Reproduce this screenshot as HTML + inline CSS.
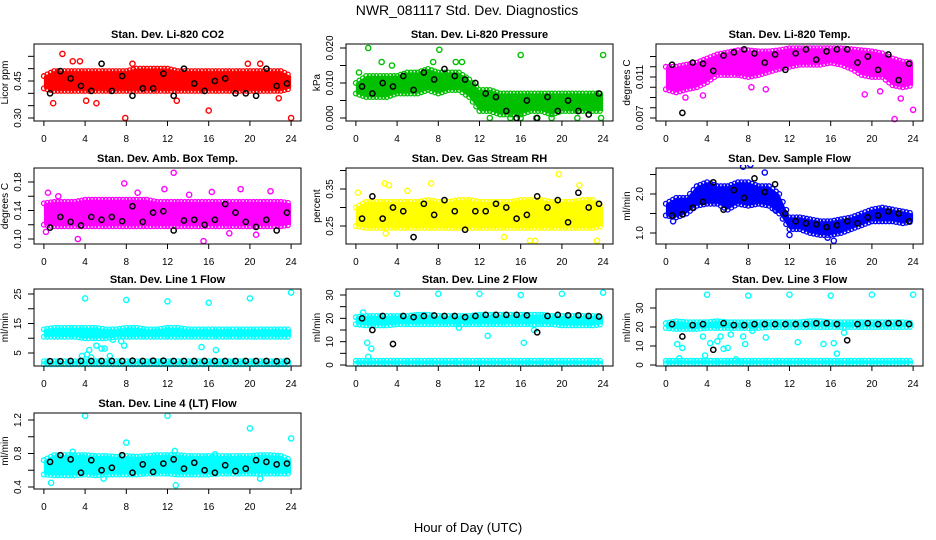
<!DOCTYPE html>
<html><head><meta charset="utf-8">
<style>
html,body{margin:0;padding:0;background:#fff;}
svg{display:block;font-family:"Liberation Sans",sans-serif;}
</style></head>
<body>
<svg id="c" width="936" height="540" viewBox="0 0 936 540">
<text x="467" y="15" text-anchor="middle" font-size="14">NWR_081117  Std. Dev. Diagnostics</text>
<text x="468" y="532" text-anchor="middle" font-size="13">Hour of Day (UTC)</text>
</svg>
<script>
// hourly band (hours 0..24) of dense colored cloud, outliers, black points
const hours = [0,1,2,3,4,5,6,7,8,9,10,11,12,13,14,15,16,17,18,19,20,21,22,23,24];
const co2Lo = [0.42,0.41,0.41,0.41,0.41,0.41,0.41,0.41,0.41,0.41,0.41,0.41,0.41,0.41,0.41,0.41,0.41,0.41,0.41,0.41,0.41,0.41,0.41,0.41,0.42];
const co2Hi = [0.47,0.49,0.49,0.49,0.49,0.49,0.49,0.49,0.49,0.50,0.50,0.50,0.50,0.49,0.49,0.49,0.49,0.49,0.49,0.49,0.49,0.49,0.49,0.49,0.47];
const co2OutX = [1.8,2.8,3.5,7.9,16,24,19.8,21,8.6,0.9,4.1,5.1,12.9,22.8];
const co2OutY = [0.56,0.53,0.53,0.30,0.33,0.30,0.52,0.52,0.52,0.36,0.37,0.36,0.37,0.38];
const co2Blk = [0.40,0.49,0.46,0.43,0.41,0.52,0.41,0.47,0.39,0.42,0.42,0.48,0.39,0.50,0.44,0.41,0.45,0.46,0.40,0.40,0.39,0.50,0.43,0.44];

const prLo = [0.007,0.006,0.006,0.006,0.007,0.007,0.007,0.008,0.007,0.008,0.008,0.006,0.002,0.002,0.001,0.001,0.001,0.002,0.002,0.001,0.002,0.002,0.002,0.002,0.002];
const prHi = [0.010,0.012,0.012,0.012,0.012,0.013,0.013,0.014,0.013,0.013,0.013,0.011,0.008,0.008,0.007,0.007,0.007,0.007,0.007,0.007,0.007,0.007,0.007,0.007,0.007];
const prOutX = [1.2,8.1,16,24,2.5,7.5,3.5,10.3,9.7,13,15,16,17.5,19,21.5,23.8,0.3];
const prOutY = [0.020,0.0195,0.018,0.018,0.016,0.016,0.015,0.016,0.016,0,0,0,0,0,0,0,0.013];
const prBlk = [0.009,0.007,0.010,0.009,0.012,0.008,0.013,0.011,0.014,0.012,0.011,0.010,0.007,0.006,0.002,0.000,0.005,0.000,0.006,0.002,0.005,0.002,0.001,0.007];

const tpLo = [0.0098,0.0095,0.0098,0.0100,0.0105,0.0112,0.0112,0.0112,0.0110,0.0112,0.0115,0.0118,0.0120,0.0122,0.0122,0.0122,0.0124,0.0122,0.0118,0.0112,0.0110,0.0110,0.0102,0.0100,0.0102];
const tpHi = [0.0120,0.0120,0.0122,0.0124,0.0128,0.0132,0.0134,0.0136,0.0136,0.0135,0.0135,0.0136,0.0138,0.0138,0.0138,0.0138,0.0138,0.0138,0.0137,0.0136,0.0135,0.0133,0.0128,0.0125,0.0124];
const tpOutX = [22.2,24,19.3,1.9,3.6,8.3,9.7,20.8,22.8,5.6,7.0];
const tpOutY = [0.0069,0.0078,0.0093,0.0090,0.0092,0.0100,0.0098,0.0096,0.0089,0.0115,0.0114];
const tpBlk = [0.0122,0.0075,0.0124,0.0123,0.0116,0.0131,0.0134,0.0137,0.0133,0.0124,0.0132,0.0117,0.0133,0.0137,0.0127,0.0135,0.0137,0.0137,0.0124,0.0130,0.0117,0.0132,0.0107,0.0123];

const abLo = [0.120,0.118,0.118,0.118,0.118,0.118,0.118,0.118,0.118,0.118,0.118,0.118,0.118,0.118,0.118,0.118,0.118,0.118,0.118,0.118,0.118,0.118,0.118,0.118,0.120];
const abHi = [0.150,0.152,0.152,0.152,0.155,0.155,0.155,0.155,0.155,0.155,0.155,0.152,0.152,0.152,0.152,0.152,0.152,0.152,0.152,0.152,0.152,0.152,0.152,0.152,0.150];
const abOutX = [12.6,7.8,15.5,3.3,0.4,11.7,19.1,9.1,14.1,16.3,22.0,18.0,20.6,0.2,1.4];
const abOutY = [0.193,0.178,0.097,0.100,0.165,0.170,0.170,0.165,0.162,0.166,0.167,0.108,0.106,0.110,0.160];
const abBlk = [0.116,0.131,0.124,0.119,0.131,0.127,0.131,0.125,0.146,0.124,0.137,0.139,0.112,0.126,0.127,0.120,0.127,0.149,0.137,0.124,0.117,0.127,0.112,0.137];

const rhLo = [0.250,0.245,0.245,0.245,0.245,0.245,0.245,0.245,0.245,0.245,0.245,0.245,0.245,0.245,0.245,0.245,0.245,0.245,0.245,0.245,0.245,0.245,0.245,0.245,0.250];
const rhHi = [0.300,0.315,0.315,0.315,0.315,0.315,0.315,0.320,0.315,0.315,0.320,0.320,0.315,0.315,0.315,0.315,0.320,0.320,0.320,0.315,0.315,0.315,0.320,0.320,0.300];
const rhOutX = [19.7,2.8,16.9,23.4,7.3,17.4,0.2,21.7,14.4,2.9,5.0,3.2];
const rhOutY = [0.39,0.365,0.21,0.21,0.365,0.21,0.34,0.36,0.22,0.23,0.345,0.36];
const rhBlk = [0.27,0.33,0.27,0.30,0.29,0.22,0.31,0.28,0.32,0.29,0.24,0.29,0.29,0.31,0.30,0.27,0.28,0.33,0.30,0.32,0.26,0.34,0.30,0.31];

const sfLo = [1.45,1.40,1.50,1.70,1.75,1.75,1.60,1.75,1.70,1.75,1.70,1.50,1.10,1.10,1.00,0.95,0.95,1.00,1.10,1.20,1.30,1.30,1.30,1.25,1.30];
const sfHi = [1.75,1.90,1.90,2.20,2.30,2.20,2.20,2.30,2.30,2.20,2.20,2.00,1.40,1.40,1.35,1.30,1.30,1.35,1.40,1.50,1.60,1.65,1.60,1.55,1.50];
const sfOutX = [7.5,8.2,9.6,16.3,12.0,0.7,10.6,15.7];
const sfOutY = [2.70,2.75,2.55,0.80,0.95,1.30,1.60,0.88];
const sfBlk = [1.45,1.48,1.65,1.80,2.30,1.60,2.10,1.90,2.40,2.05,2.25,1.50,1.30,1.25,1.22,1.15,1.20,1.30,1.25,1.40,1.45,1.55,1.50,1.30];

const l1Lo = [10.5,10.5,10.5,10.5,10.0,10.0,10.0,10.5,10.5,10.5,10.5,10.5,10.5,10.5,10.5,10.5,10.5,10.5,10.5,10.5,10.5,10.5,10.5,10.5,10.5];
const l1Hi = [13.0,13.5,13.5,13.5,13.5,13.5,13.0,13.0,13.5,13.5,13.0,13.0,13.5,13.5,13.0,13.0,13.0,13.0,13.0,13.0,13.0,13.0,13.0,13.0,13.0];
const l1OutX = [4,8,12,16,20,24,3.7,4.2,5.1,5.6,5.9,6.4,7.5,7.8,6.7,15.3,16.7,4.4,4.6];
const l1OutY = [23.5,23,22.5,22,23.5,25.5,4,4.5,7.5,6.5,6.5,4,9,7.5,9.5,7,6,6,3.5];
const l1Blk = [2.2,2.2,2.3,2.3,2.3,2.3,2.3,2.3,2.4,2.3,2.4,2.4,2.3,2.3,2.3,2.3,2.3,2.3,2.3,2.3,2.3,2.3,2.2,2.3];
const l1BotLo = [1.2,1.2,1.2,1.2,1.2,1.2,1.2,1.2,1.2,1.2,1.2,1.2,1.2,1.2,1.2,1.2,1.2,1.2,1.2,1.2,1.2,1.2,1.2,1.2,1.2];
const l1BotHi = [2.2,2.2,2.2,2.2,2.2,2.2,2.2,2.2,2.2,2.2,2.2,2.2,2.2,2.2,2.2,2.2,2.2,2.2,2.2,2.2,2.2,2.2,2.2,2.2,2.2];

const l2Lo = [17.5,17.0,17.0,17.0,17.5,17.5,17.5,17.5,17.5,17.5,17.5,17.5,17.5,17.5,17.5,17.5,17.5,17.5,17.5,17.5,17.0,17.0,17.0,17.0,17.5];
const l2Hi = [20.5,21.0,21.0,21.0,21.0,21.0,21.5,21.5,21.0,21.0,21.0,21.0,21.5,21.5,21.5,21.5,21.5,21.5,21.5,21.0,21.0,21.0,21.0,21.0,20.5];
const l2OutX = [4,8,12,16,20,24,1.1,1.5,1.2,12.8,16.3,10,0.7,17.3];
const l2OutY = [30.5,30.5,30.5,30,30.5,31,9.5,7,3.5,12.5,9.5,16,22.5,15];
const l2Blk = [20,15,21,9,21,20.5,21,21.2,21,21,20.5,21,21.5,21.5,21.5,21.5,21.3,14,21,21.5,21.3,21.3,21,20.8];
const l2BotLo = [0.5,0.5,0.5,0.5,0.5,0.5,0.5,0.5,0.5,0.5,0.5,0.5,0.5,0.5,0.5,0.5,0.5,0.5,0.5,0.5,0.5,0.5,0.5,0.5,0.5];
const l2BotHi = [1.8,1.8,1.8,1.8,1.8,1.8,1.8,1.8,1.8,1.8,1.8,1.8,1.8,1.8,1.8,1.8,1.8,1.8,1.8,1.8,1.8,1.8,1.8,1.8,1.8];

const l3Lo = [19.5,19.0,19.0,19.0,19.5,19.5,19.5,19.5,19.5,19.5,20.0,20.0,20.0,20.0,20.0,20.0,20.0,20.0,20.0,20.0,20.0,20.0,20.0,20.0,20.0];
const l3Hi = [22.0,23.0,22.5,22.5,22.5,23.0,22.5,22.5,22.5,22.5,22.5,22.5,22.5,22.5,23.0,23.0,22.5,22.5,22.5,22.5,22.5,22.5,22.5,22.5,22.0];
const l3OutX = [4,8,12,16,20,24,1.1,1.6,1.3,3.6,4.3,5.0,5.3,5.6,6.0,6.3,7.5,7.7,9.7,12.8,15.3,16.3,16.6,17.3,3.8,6.8,8.4];
const l3OutY = [37,36.5,37,36.5,37,37,11,9,3.5,15,11.5,12.5,15,8.5,9,16,15,11,14.5,12,11,11.5,6,17,5,3,18];
const l3Blk = [21.5,15,21,21.5,8,22,21,21,21.5,21.5,21.5,21.5,21.5,21.5,22,22,21.5,13,21.5,22,21.5,22,22,21.5];
const l3BotLo = [0.8,0.8,0.8,0.8,0.8,0.8,0.8,0.8,0.8,0.8,0.8,0.8,0.8,0.8,0.8,0.8,0.8,0.8,0.8,0.8,0.8,0.8,0.8,0.8,0.8];
const l3BotHi = [2.2,2.2,2.2,2.2,2.2,2.2,2.2,2.2,2.2,2.2,2.2,2.2,2.2,2.2,2.2,2.2,2.2,2.2,2.2,2.2,2.2,2.2,2.2,2.2,2.2];

const l4Lo = [0.55,0.54,0.54,0.54,0.55,0.54,0.55,0.55,0.55,0.55,0.56,0.56,0.56,0.55,0.55,0.55,0.55,0.56,0.56,0.56,0.56,0.56,0.56,0.56,0.56];
const l4Hi = [0.72,0.78,0.78,0.78,0.78,0.77,0.77,0.76,0.77,0.76,0.77,0.78,0.78,0.78,0.77,0.77,0.77,0.77,0.77,0.77,0.77,0.78,0.78,0.77,0.72];
const l4OutX = [4,12,20,24,8,12.8,0.7,2.8,16.6,12.7,5.8,21];
const l4OutY = [1.25,1.25,1.10,0.98,0.93,0.42,0.45,0.82,0.79,0.83,0.50,0.50];
const l4Blk = [0.70,0.78,0.73,0.57,0.72,0.60,0.63,0.78,0.57,0.67,0.58,0.68,0.73,0.62,0.69,0.60,0.57,0.66,0.59,0.62,0.72,0.70,0.67,0.68];

const panels = [
 {name:'co2',title:'Stan. Dev. Li-820 CO2',ylab:'Licor ppm',col:0,row:0,color:'#ff0000',lo:co2Lo,hi:co2Hi,ox:co2OutX,oy:co2OutY,blk:co2Blk,ref:[0.45,81,0.30,118],ticks:[0.30,0.35,0.40,0.45,0.50,0.55],labs:[0.30,0.45],fmt:2},
 {name:'pressure',title:'Stan. Dev. Li-820 Pressure',ylab:'kPa',col:1,row:0,color:'#00c000',lo:prLo,hi:prHi,ox:prOutX,oy:prOutY,blk:prBlk,ref:[0.020,48,0,118],ticks:[0,0.005,0.010,0.015,0.020],labs:[0,0.010,0.020],fmt:3},
 {name:'temp',title:'Stan. Dev. Li-820 Temp.',ylab:'degrees C',col:2,row:0,color:'#ff00ff',lo:tpLo,hi:tpHi,ox:tpOutX,oy:tpOutY,blk:tpBlk,ref:[0.011,77,0.007,118],ticks:[0.007,0.008,0.009,0.010,0.011,0.012,0.013],labs:[0.007,0.011],fmt:3},
 {name:'amb-box',title:'Stan. Dev. Amb. Box Temp.',ylab:'degrees C',col:0,row:1,color:'#ff00ff',lo:abLo,hi:abHi,ox:abOutX,oy:abOutY,blk:abBlk,ref:[0.18,182,0.10,239],ticks:[0.10,0.12,0.14,0.16,0.18],labs:[0.10,0.14,0.18],fmt:2},
 {name:'rh',title:'Stan. Dev. Gas Stream RH',ylab:'percent',col:1,row:1,color:'#ffff00',lo:rhLo,hi:rhHi,ox:rhOutX,oy:rhOutY,blk:rhBlk,ref:[0.35,189,0.25,226],ticks:[0.25,0.30,0.35,0.40],labs:[0.25,0.35],fmt:2},
 {name:'sample-flow',title:'Stan. Dev. Sample Flow',ylab:'ml/min',col:2,row:1,color:'#0000ff',lo:sfLo,hi:sfHi,ox:sfOutX,oy:sfOutY,blk:sfBlk,ref:[2.0,194,1.0,233],ticks:[1.0,1.5,2.0,2.5],labs:[1.0,2.0],fmt:1},
 {name:'line1',title:'Stan. Dev. Line 1 Flow',ylab:'ml/min',col:0,row:2,color:'#00ffff',lo:l1Lo,hi:l1Hi,lo2:l1BotLo,hi2:l1BotHi,ox:l1OutX,oy:l1OutY,blk:l1Blk,ref:[25,294,5,353],ticks:[5,10,15,20,25],labs:[5,15,25],fmt:0},
 {name:'line2',title:'Stan. Dev. Line 2 Flow',ylab:'ml/min',col:1,row:2,color:'#00ffff',lo:l2Lo,hi:l2Hi,lo2:l2BotLo,hi2:l2BotHi,ox:l2OutX,oy:l2OutY,blk:l2Blk,ref:[30,295,0,365],ticks:[0,5,10,15,20,25,30],labs:[0,10,20,30],fmt:0},
 {name:'line3',title:'Stan. Dev. Line 3 Flow',ylab:'ml/min',col:2,row:2,color:'#00ffff',lo:l3Lo,hi:l3Hi,lo2:l3BotLo,hi2:l3BotHi,ox:l3OutX,oy:l3OutY,blk:l3Blk,ref:[30,308,0,365],ticks:[0,10,20,30],labs:[0,10,20,30],fmt:0},
 {name:'line4',title:'Stan. Dev. Line 4 (LT) Flow',ylab:'ml/min',col:0,row:3,color:'#00ffff',lo:l4Lo,hi:l4Hi,ox:l4OutX,oy:l4OutY,blk:l4Blk,ref:[1.2,420,0.4,487],ticks:[0.4,0.6,0.8,1.0,1.2],labs:[0.4,0.8,1.2],fmt:1}
];
const xTicks = [0,4,8,12,16,20,24];

const NS='http://www.w3.org/2000/svg';
const svg=document.getElementById('c');
const colL=[34,346,656], boxW=267;
const rowT=[44,168,289,413], rowB=[121,244,366,489];
function mk(tag,attrs,parent){const e=document.createElementNS(NS,tag);for(const k in attrs)e.setAttribute(k,attrs[k]);parent.appendChild(e);return e;}

panels.forEach(p=>{
  const L=colL[p.col],R=L+boxW,T=rowT[p.row],B=rowB[p.row];
  const g=mk('g',{},svg);
  
  
  const x0=L+0.04/1.08*boxW, xs=(boxW/1.08)/24;
  const X=h=>x0+h*xs;
  const [v1,py1,v2,py2]=p.ref;
  const Y=v=>py1+(v-v1)*(py2-py1)/(v2-v1);
  const clip='clip-'+p.name;
  const cp=mk('clipPath',{id:clip},g); mk('rect',{x:L,y:T-3,width:boxW,height:B-T+6},cp);
  const pg=mk('g',{'clip-path':'url(#'+clip+')'},g);
  function band(lo,hi,nm){
    let pts=[];
    hours.forEach((h,i)=>pts.push(X(h)+','+Y(hi[i])));
    for(let i=hours.length-1;i>=0;i--)pts.push(X(hours[i])+','+Y(lo[i]));
    const poly=mk('polygon',{points:pts.join(' '),fill:p.color},pg);
    
    
    for(let i=0;i<hours.length-1;i++){
      for(let f=0;f<1;f+=0.34){
        const h=hours[i]+f;
        const l=lo[i]+(lo[i+1]-lo[i])*f, u=hi[i]+(hi[i+1]-hi[i])*f;
        [l,u].forEach(v=>{
          const c=mk('circle',{cx:X(h),cy:Y(v),r:2.4,fill:'none',stroke:p.color,'stroke-width':1.3},pg);
          
          
        });
      }
    }
  }
  band(p.lo,p.hi,'data-cloud');
  if(p.lo2) band(p.lo2,p.hi2,'data-cloud-low');
  p.ox.forEach((h,i)=>{
    const c=mk('circle',{cx:X(h),cy:Y(p.oy[i]),r:2.6,fill:'none',stroke:p.color,'stroke-width':1.4},pg);
    
    
  });
  p.blk.forEach((v,i)=>{
    const c=mk('circle',{cx:X(i+0.6),cy:Y(v),r:2.6,fill:'none',stroke:'#000','stroke-width':1.5},pg);
    
    
  });
  const box=mk('rect',{x:L,y:T,width:boxW,height:B-T,fill:'none',stroke:'#000','stroke-width':1},g);
  
  
  const t=mk('text',{x:(L+R)/2,y:T-6,'text-anchor':'middle','font-size':11,'font-weight':'bold'},g);
  t.textContent=p.title;
  
  
  xTicks.forEach(h=>{
    mk('line',{x1:X(h),x2:X(h),y1:B,y2:B+5,stroke:'#000'},g);
    const tx=mk('text',{x:X(h),y:B+21,'text-anchor':'middle','font-size':10},g);
    tx.textContent=h;
    
    
  });
  p.ticks.forEach(v=>{ mk('line',{x1:L-6,x2:L,y1:Y(v),y2:Y(v),stroke:'#000'},g); });
  p.labs.forEach(v=>{
    const yy=Y(v);
    const tx=mk('text',{x:L-13,y:yy,'text-anchor':'middle','font-size':10,transform:'rotate(-90 '+(L-13)+' '+yy+')'},g);
    tx.textContent=v.toFixed(p.fmt);
    
    
  });
  const yl=(T+B)/2, xl=L-26;
  const ylab=mk('text',{x:xl,y:yl,'text-anchor':'middle','font-size':10,transform:'rotate(-90 '+xl+' '+yl+')'},g);
  ylab.textContent=p.ylab;
  
  
});
</script>
</body></html>
